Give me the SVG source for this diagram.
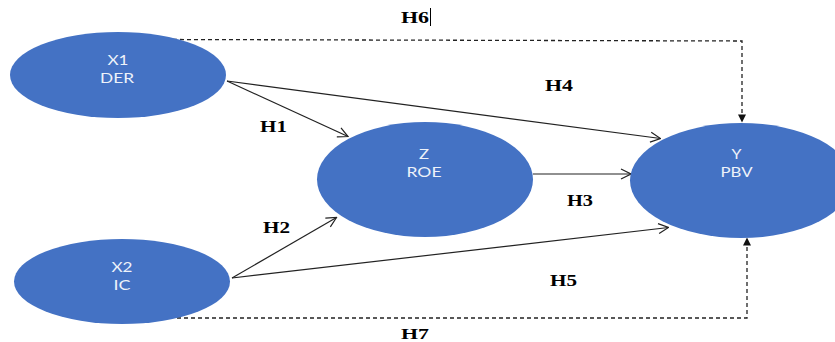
<svg xmlns="http://www.w3.org/2000/svg" width="835" height="342" viewBox="0 0 835 342">
<defs>
<style>
.node{fill:#4472C4;}
.nt{font-family:Lato,"Open Sans","Liberation Sans",sans-serif;font-size:14px;fill:#eef2fa;text-anchor:middle;}
.lbl{font-family:"Liberation Serif","Times New Roman",serif;font-weight:bold;font-size:16.5px;fill:#000;}
.ln{stroke:#222;stroke-width:1.2;fill:none;}
.ds{stroke:#222;stroke-width:1.3;fill:none;stroke-dasharray:4 3;}
</style>
<marker id="open" markerWidth="12" markerHeight="12" refX="11" refY="6" orient="auto" markerUnits="userSpaceOnUse">
<path d="M1,1 L11,6 L1,11" fill="none" stroke="#222" stroke-width="1.2"/>
</marker>
<marker id="solid" markerWidth="10" markerHeight="10" refX="9" refY="5" orient="auto" markerUnits="userSpaceOnUse">
<path d="M1,1 L9,5 L1,9 Z" fill="#111"/>
</marker>
</defs>
<rect width="835" height="342" fill="#fff"/>
<g id="connectors">
<polyline class="ds" points="173,39.5 742,41 742,122.5" marker-end="url(#solid)"/>
<polyline class="ds" points="177,318 747,318 747,237.5" marker-end="url(#solid)"/>
<line class="ln" x1="227" y1="81" x2="348" y2="136.5" marker-end="url(#open)"/>
<line class="ln" x1="227" y1="81" x2="660.5" y2="138.5" marker-end="url(#open)"/>
<line class="ln" x1="533" y1="174" x2="631" y2="174" marker-end="url(#open)"/>
<line class="ln" x1="232" y1="278" x2="336.5" y2="217.5" marker-end="url(#open)"/>
<line class="ln" x1="232" y1="278" x2="668.5" y2="227.5" marker-end="url(#open)"/>
</g>
<g id="X1">
<ellipse class="node" cx="118" cy="75" rx="108" ry="43"/>
<text class="nt" x="118" y="65" textLength="21" lengthAdjust="spacingAndGlyphs">X1</text>
<text class="nt" x="117" y="83" textLength="34" lengthAdjust="spacingAndGlyphs">DER</text>
</g>
<g id="X2">
<ellipse class="node" cx="122" cy="281.5" rx="108" ry="42.5"/>
<text class="nt" x="122" y="272" textLength="21" lengthAdjust="spacingAndGlyphs">X2</text>
<text class="nt" x="122" y="290" textLength="17" lengthAdjust="spacingAndGlyphs">IC</text>
</g>
<g id="Z">
<ellipse class="node" cx="425" cy="179.5" rx="108" ry="57.5"/>
<text class="nt" x="424" y="159" textLength="10" lengthAdjust="spacingAndGlyphs">Z</text>
<text class="nt" x="424" y="177" textLength="35" lengthAdjust="spacingAndGlyphs">ROE</text>
</g>
<g id="Y">
<ellipse class="node" cx="741" cy="180.5" rx="111" ry="57.5"/>
<text class="nt" x="736.5" y="159" textLength="10" lengthAdjust="spacingAndGlyphs">Y</text>
<text class="nt" x="736.5" y="177" textLength="32" lengthAdjust="spacingAndGlyphs">PBV</text>
</g>
<g id="labels">
<text class="lbl" x="401" y="23" textLength="28" lengthAdjust="spacingAndGlyphs">H6</text>
<line x1="430.5" y1="8" x2="430.5" y2="26" stroke="#000" stroke-width="1"/>
<text class="lbl" x="545" y="91" textLength="28" lengthAdjust="spacingAndGlyphs">H4</text>
<text class="lbl" x="260" y="132" textLength="27" lengthAdjust="spacingAndGlyphs">H1</text>
<text class="lbl" x="263" y="233" textLength="27" lengthAdjust="spacingAndGlyphs">H2</text>
<text class="lbl" x="567" y="206" textLength="26" lengthAdjust="spacingAndGlyphs">H3</text>
<text class="lbl" x="550" y="286" textLength="27" lengthAdjust="spacingAndGlyphs">H5</text>
<text class="lbl" x="401" y="338.5" style="font-size:15.5px" textLength="28" lengthAdjust="spacingAndGlyphs">H7</text>
</g>
</svg>
